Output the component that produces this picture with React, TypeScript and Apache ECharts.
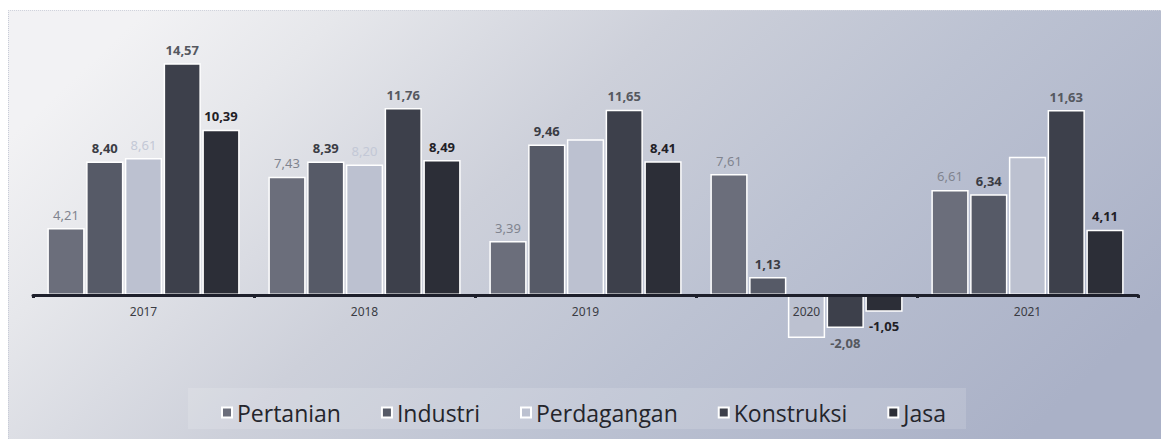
import React, { useEffect, useRef } from "react";
import * as echarts from "echarts";

const years = ["2017", "2018", "2019", "2020", "2021"];
const pertanian = [4.21, 7.43, 3.39, 7.61, 6.61];
const industri = [8.4, 8.39, 9.46, 1.13, 6.34];
const perdagangan = [8.61, 8.2, 9.8, -2.7, 8.7];
const perdaganganLabelShown = [true, true, false, false, false];
const konstruksi = [14.57, 11.76, 11.65, -2.08, 11.63];
const jasa = [10.39, 8.49, 8.41, -1.05, 4.11];

const seriesNames = ["Pertanian", "Industri", "Perdagangan", "Konstruksi", "Jasa"];
const seriesColors = ["#6b6e7b", "#565a67", "#bcc1d0", "#3d404b", "#2c2e37"];
const legendColors = ["#8a8d99", "#5a5d68", "#d4d8e4", "#3d404b", "#2c2e37"];
const labelColors = ["#80848f", "#3a3c44", "#c3c8d6", "#55585f", "#1f2026"];
const labelWeights = ["normal", "bold", "normal", "bold", "bold"];

const fmt = (v: number) => v.toFixed(2).replace(".", ",");

export default function App() {
  const ref = useRef<HTMLDivElement>(null);
  useEffect(() => {
    if (!ref.current) return;
    const chart = echarts.init(ref.current, null, { renderer: "svg" });
    const all = [pertanian, industri, perdagangan, konstruksi, jasa];
    const series = all.map((vals, si) => ({
      name: seriesNames[si],
      type: "bar",
      barGap: "4%",
      barCategoryGap: "13%",
      itemStyle: { color: seriesColors[si], borderColor: "#ffffff", borderWidth: 1.5 },
      label: {
        show: true,
        position: "top",
        distance: 7,
        color: labelColors[si],
        fontWeight: labelWeights[si],
        fontSize: 13,
        fontFamily: "Noto Sans",
        formatter: (p: any) => fmt(p.value),
      },
      data: vals.map((v, i) => {
        const item: any = { value: v };
        const showLabel = si === 2 ? perdaganganLabelShown[i] : true;
        if (!showLabel) item.label = { show: false };
        else if (v < 0) item.label = { position: "bottom", distance: 8 };
        return item;
      }),
    }));
    chart.setOption({
      animation: false,
      color: legendColors,
      graphic: [
        {
          type: "rect",
          silent: true,
          z: -10,
          shape: { x: 8, y: 10, width: 1153, height: 429 },
          style: {
            fill: new echarts.graphic.LinearGradient(0, 0.3, 1, 0.7, [
              { offset: 0, color: "#f2f2f4" },
              { offset: 0.15, color: "#e6e7eb" },
              { offset: 0.4, color: "#cdd0da" },
              { offset: 0.65, color: "#bcc2d2" },
              { offset: 1, color: "#aab1c7" },
            ]),
          },
        },
        {
          type: "rect",
          silent: true,
          z: -9,
          shape: { x: 188, y: 388, width: 778, height: 41 },
          style: { fill: "rgba(255,255,255,0.14)" },
        },
        {
          type: "line",
          silent: true,
          z: -8,
          shape: { x1: 8.5, y1: 10, x2: 8.5, y2: 439 },
          style: { stroke: "#c8ccd8", lineWidth: 1, lineDash: [1, 1] },
        },
        {
          type: "line",
          silent: true,
          z: -8,
          shape: { x1: 8, y1: 10.5, x2: 1161, y2: 10.5 },
          style: { stroke: "#d0d3dc", lineWidth: 1, lineDash: [1, 1] },
        },
      ],
      grid: { left: 33, right: 23, top: 40.6, height: 318, containLabel: false },
      xAxis: {
        type: "category",
        data: years,
        offset: -63.6,
        z: 5,
        axisLine: { onZero: false, lineStyle: { color: "#1d1f2b", width: 3 } },
        axisTick: { show: true, length: 3, lineStyle: { color: "#1d1f2b", width: 3 } },
        axisLabel: { color: "#3a3c44", fontSize: 12, fontFamily: "Noto Sans", margin: 10 },
      },
      yAxis: {
        type: "value",
        min: -4,
        max: 16,
        show: false,
        splitLine: { show: false },
      },
      legend: {
        data: seriesNames,
        top: 396,
        left: 216,
        icon: "rect",
        itemWidth: 10,
        itemHeight: 10,
        itemGap: 40,
        textStyle: { fontSize: 23, color: "#24252c", fontFamily: "Open Sans", padding: [0, 0, 0, 0] },
      },
      series,
    });
    return () => chart.dispose();
  }, []);
  return (
    <div
      ref={ref}
      style={{ position: "absolute", left: 0, top: 0, width: 1161, height: 439 }}
    />
  );
}
